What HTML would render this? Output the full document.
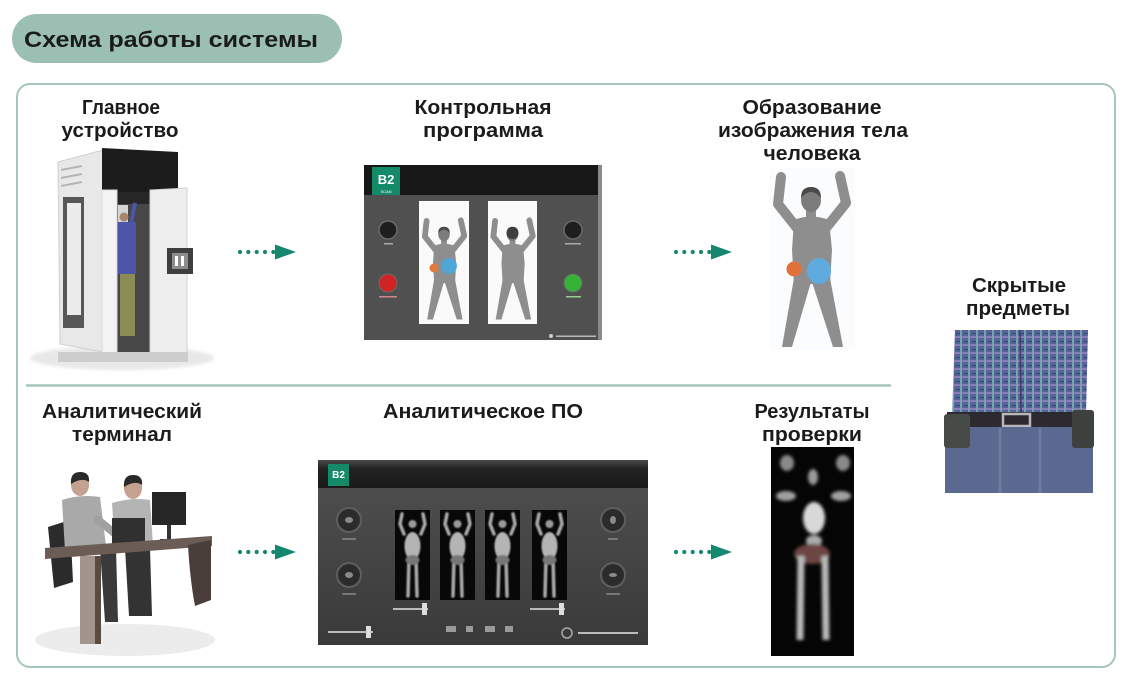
<!DOCTYPE html>
<html><head><meta charset="utf-8"><style>
html,body{margin:0;padding:0;background:#fff;}
svg{display:block}
text{font-family:"Liberation Sans","DejaVu Sans",sans-serif;font-weight:bold;fill:#1b1b1b}
</style></head><body>
<svg width="1132" height="681" viewBox="0 0 1132 681" xmlns="http://www.w3.org/2000/svg">
<defs>
 <filter id="b1" x="-20%" y="-20%" width="140%" height="140%"><feGaussianBlur stdDeviation="0.8"/></filter>
 <filter id="b2" x="-20%" y="-20%" width="140%" height="140%"><feGaussianBlur stdDeviation="1.6"/></filter>
 <filter id="b4" x="-30%" y="-30%" width="160%" height="160%"><feGaussianBlur stdDeviation="4"/></filter>
 <pattern id="plaid" width="8" height="8" patternUnits="userSpaceOnUse">
  <rect width="8" height="8" fill="#56629a"/>
  <rect x="0" y="0" width="8" height="2" fill="#8a7cb8"/>
  <rect x="0" y="0" width="2" height="8" fill="#72a6a6"/>
  <rect x="4" y="5" width="4" height="1" fill="#3f4676"/>
 </pattern>
 <linearGradient id="swg" x1="0" y1="0" x2="0" y2="1">
  <stop offset="0" stop-color="#505050"/><stop offset="1" stop-color="#3a3a3a"/>
 </linearGradient>
 <linearGradient id="barg" x1="0" y1="0" x2="0" y2="1">
  <stop offset="0" stop-color="#4a4a4a"/><stop offset="0.3" stop-color="#222"/><stop offset="1" stop-color="#1a1a1a"/>
 </linearGradient>
 <g id="arrow" fill="#16876f">
  <circle cx="2" cy="0" r="2.1"/><circle cx="10.3" cy="0" r="2.1"/><circle cx="18.7" cy="0" r="2.1"/><circle cx="27" cy="0" r="2.1"/><circle cx="35.3" cy="0" r="2.1"/>
  <polygon points="37,-7.5 58,0 37,7.5"/>
 </g>
 <g id="fig">
  <g fill="none" stroke="#8e8e8e" stroke-width="10" stroke-linecap="round" stroke-linejoin="round">
   <path d="M797 228 L778 204 L781 177"/>
   <path d="M826 228 L846 203 L840 176"/>
  </g>
  <g fill="#8e8e8e">
   <path d="M794 220 Q811 213 829 220 L832 250 L830 284 L794 284 L792 250 Z"/>
   <polygon points="794,278 811,282 792,347 782,347"/>
   <polygon points="812,282 830,278 843,347 833,347"/>
   <rect x="806" y="208" width="10" height="10"/>
  </g>
  <ellipse cx="811" cy="200" rx="10" ry="12" fill="#7c7c7c"/>
  <path d="M801 198 Q801 187 811 187 Q821 187 821 198 Q816 192 811 192 Q806 192 801 198 Z" fill="#4a4a4a"/>
 </g>
 <g id="scan" filter="url(#b1)">
  <g fill="none" stroke="#a8a8a8" stroke-width="3.5" stroke-linecap="round">
   <path d="M9 24 L5 14 L7 4"/><path d="M26 24 L30 14 L28 4"/>
   <path d="M14 48 L13 86"/><path d="M21 48 L22 86"/>
  </g>
  <circle cx="17.5" cy="14" r="4" fill="#9a9a9a"/>
  <ellipse cx="17.5" cy="36" rx="8" ry="14" fill="#b4b4b4"/>
  <ellipse cx="17.5" cy="50" rx="7" ry="5" fill="#777"/>
 </g>
</defs>

<!-- header pill -->
<rect x="12" y="14" width="330" height="49" rx="24.5" fill="#9cbfb4"/>
<text x="24" y="47" font-size="22" textLength="294" lengthAdjust="spacingAndGlyphs">Схема работы системы</text>

<!-- outer box -->
<rect x="17" y="84" width="1098" height="583" rx="13" fill="none" stroke="#a5c6bc" stroke-width="2"/>
<line x1="26" y1="385.5" x2="891" y2="385.5" stroke="#a5c6bc" stroke-width="2.5"/>

<!-- labels -->
<g font-size="20" text-anchor="middle">
 <text x="121" y="114" textLength="78" lengthAdjust="spacingAndGlyphs">Главное</text>
 <text x="120" y="137" textLength="117" lengthAdjust="spacingAndGlyphs">устройство</text>
 <text x="483" y="114" textLength="137" lengthAdjust="spacingAndGlyphs">Контрольная</text>
 <text x="483" y="137" textLength="120" lengthAdjust="spacingAndGlyphs">программа</text>
 <text x="812" y="114" textLength="139" lengthAdjust="spacingAndGlyphs">Образование</text>
 <text x="813" y="137" textLength="190" lengthAdjust="spacingAndGlyphs">изображения тела</text>
 <text x="812" y="160" textLength="97" lengthAdjust="spacingAndGlyphs">человека</text>
 <text x="1019" y="292" textLength="94" lengthAdjust="spacingAndGlyphs">Скрытые</text>
 <text x="1018" y="315" textLength="104" lengthAdjust="spacingAndGlyphs">предметы</text>
 <text x="122" y="418" textLength="160" lengthAdjust="spacingAndGlyphs">Аналитический</text>
 <text x="122" y="441" textLength="100" lengthAdjust="spacingAndGlyphs">терминал</text>
 <text x="483" y="418" textLength="200" lengthAdjust="spacingAndGlyphs">Аналитическое ПО</text>
 <text x="812" y="418" textLength="115" lengthAdjust="spacingAndGlyphs">Результаты</text>
 <text x="812" y="441" textLength="100" lengthAdjust="spacingAndGlyphs">проверки</text>
</g>

<!-- arrows -->
<use href="#arrow" transform="translate(238 252)"/>
<use href="#arrow" transform="translate(674 252)"/>
<use href="#arrow" transform="translate(238 552)"/>
<use href="#arrow" transform="translate(674 552)"/>

<!-- booth -->
<g>
 <ellipse cx="122" cy="358" rx="92" ry="12" fill="#e8e8e8" filter="url(#b2)"/>
 <polygon points="58,162 103,150 103,352 60,344" fill="#e8e8e8" stroke="#cfcfcf"/>
 <g stroke="#b5b5b5" stroke-width="2"><line x1="61" y1="170" x2="82" y2="166"/><line x1="61" y1="178" x2="82" y2="174"/><line x1="61" y1="186" x2="82" y2="182"/></g>
 <rect x="63" y="197" width="21" height="131" fill="#575757"/>
 <rect x="67" y="203" width="14" height="112" fill="#ececec"/>
 <polygon points="102,148 178,152 178,196 102,192" fill="#1c1c1c"/>
 <rect x="115" y="192" width="38" height="168" fill="#474747"/>
 <rect x="115" y="192" width="38" height="12" fill="#262626"/>
 <rect x="118" y="205" width="10" height="60" fill="#d5d5d5"/>
 <line x1="131" y1="224" x2="135" y2="203" stroke="#4e55a8" stroke-width="4"/>
 <circle cx="124" cy="217" r="4.5" fill="#a8846c"/>
 <rect x="118" y="222" width="18" height="52" fill="#4e55a8"/>
 <rect x="120" y="274" width="15" height="62" fill="#8c8b55"/>
 <rect x="102" y="190" width="15" height="170" fill="#f3f3f3" stroke="#d8d8d8"/>
 <polygon points="150,190 187,188 187,357 150,360" fill="#eeeeee" stroke="#d0d0d0"/>
 <rect x="167" y="248" width="26" height="26" fill="#3e3e3e"/>
 <rect x="172" y="253" width="16" height="16" fill="#8d8d8d"/>
 <rect x="175" y="256" width="3" height="10" fill="#fff"/><rect x="181" y="256" width="3" height="10" fill="#fff"/>
 <rect x="58" y="352" width="130" height="10" fill="#cdcdcd"/>
</g>

<!-- control program screen -->
<g>
 <rect x="364" y="165" width="238" height="175" fill="#505050"/>
 <rect x="364" y="165" width="238" height="30" fill="#171717"/>
 <rect x="598" y="165" width="4" height="175" fill="#8a8a8a"/>
 <rect x="372" y="167" width="28" height="28" fill="#148a68"/>
 <text x="386" y="184" font-size="13" text-anchor="middle" style="fill:#fff">B2</text>
 <text x="386" y="193" font-size="4" text-anchor="middle" style="fill:#fff;font-weight:normal">SCAN</text>
 <rect x="419" y="201" width="50" height="123" fill="#fafafa"/>
 <rect x="488" y="201" width="49" height="123" fill="#fafafa"/>
 <use href="#fig" transform="translate(444 218) scale(0.58) translate(-811 -172)"/>
 <use href="#fig" transform="translate(512.5 218) scale(0.58) translate(-811 -172)"/>
 <circle cx="512.5" cy="233" r="6" fill="#3e3e3e"/>
 <ellipse cx="449" cy="266" rx="8" ry="8" fill="#4aa8e0" opacity="0.9"/>
 <circle cx="434" cy="268" r="4.5" fill="#e07a3a"/>
 <circle cx="388" cy="230" r="9" fill="#1e1e1e" stroke="#6a6a6a" stroke-width="1.5"/>
 <circle cx="388" cy="283" r="9" fill="#d02424" stroke="#6a6a6a" stroke-width="1"/>
 <circle cx="573" cy="230" r="9" fill="#1e1e1e" stroke="#6a6a6a" stroke-width="1.5"/>
 <circle cx="573" cy="283" r="9" fill="#36b236" stroke="#6a6a6a" stroke-width="1"/>
 <rect x="384" y="243" width="9" height="1.5" fill="#aaa"/>
 <rect x="379" y="296" width="18" height="1.5" fill="#c88"/>
 <rect x="565" y="243" width="16" height="1.5" fill="#aaa"/>
 <rect x="566" y="296" width="15" height="1.5" fill="#9c9"/>
 <circle cx="551" cy="336" r="2" fill="#ccc"/>
 <rect x="556" y="335.5" width="40" height="1.5" fill="#bbb"/>
</g>

<!-- body image -->
<g>
 <rect x="770" y="168" width="85" height="182" fill="#fbfcfd"/>
 <use href="#fig"/>
 <ellipse cx="819" cy="271" rx="12" ry="13" fill="#5aaee8" opacity="0.9"/>
 <circle cx="794" cy="269" r="7.5" fill="#e2703a"/>
</g>

<!-- hidden items photo -->
<g>
 <path d="M955 330 L1088 330 L1086 415 L952 415 Z" fill="url(#plaid)"/>
 <line x1="1020" y1="330" x2="1021" y2="413" stroke="#3a3f66" stroke-width="1.5"/>
 <rect x="947" y="412" width="143" height="16" fill="#2c2a30"/>
 <rect x="1003" y="414" width="27" height="12" fill="none" stroke="#b8b8b8" stroke-width="2.5"/>
 <path d="M945 427 L1093 427 L1093 493 L945 493 Z" fill="#5b6890"/>
 <path d="M1000 428 L1000 493 M1040 428 L1040 493" stroke="#6e7ba0" stroke-width="3"/>
 <rect x="944" y="414" width="26" height="34" rx="3" fill="#464b46"/>
 <rect x="1072" y="410" width="22" height="38" rx="3" fill="#3e423e"/>
</g>

<!-- analytic terminal -->
<g>
 <ellipse cx="125" cy="640" rx="90" ry="16" fill="#ececec"/>
 <path d="M48 527 L70 520 L73 582 L54 588 Z" fill="#2b2b2b"/>
 <path d="M62 500 Q80 494 100 497 L106 546 L65 551 Z" fill="#a9a9a9"/>
 <line x1="98" y1="520" x2="118" y2="536" stroke="#a0a0a0" stroke-width="8" stroke-linecap="round"/>
 <ellipse cx="80" cy="485" rx="9" ry="11" fill="#c4a190"/>
 <path d="M71 484 Q70 472 80 472 Q90 472 89 482 Q82 477 71 484 Z" fill="#2a2a2a"/>
 <path d="M112 503 Q132 497 150 500 L153 546 L115 549 Z" fill="#b4b4b4"/>
 <ellipse cx="133" cy="488" rx="9" ry="11" fill="#c4a190"/>
 <path d="M124 487 Q123 475 133 475 Q143 475 142 485 Q135 480 124 487 Z" fill="#2a2a2a"/>
 <rect x="152" y="492" width="34" height="33" fill="#262626"/>
 <rect x="167" y="525" width="4" height="15" fill="#333"/>
 <rect x="160" y="539" width="18" height="3" fill="#333"/>
 <rect x="112" y="518" width="33" height="28" fill="#303030"/>
 <path d="M100 548 L116 548 L118 622 L105 622 Z" fill="#3a3a3a"/>
 <path d="M125 548 L150 548 L152 616 L129 616 Z" fill="#333"/>
 <polygon points="45,548 212,536 212,546 45,559" fill="#6b5d55"/>
 <rect x="80" y="556" width="16" height="88" fill="#a2958d"/>
 <rect x="95" y="556" width="6" height="88" fill="#5a4a42"/>
 <path d="M188 545 L211 540 L211 600 L195 606 Q190 580 188 545 Z" fill="#4a3e3a"/>
</g>

<!-- analytic software screen -->
<g>
 <rect x="318" y="460" width="330" height="185" fill="url(#swg)"/>
 <rect x="318" y="460" width="330" height="28" fill="url(#barg)"/>
 <rect x="328" y="464" width="21" height="22" fill="#148a68"/>
 <text x="338.5" y="478" font-size="10" text-anchor="middle" style="fill:#fff">B2</text>
 <rect x="395" y="510" width="35" height="90" fill="#080808"/>
 <rect x="440" y="510" width="35" height="90" fill="#080808"/>
 <rect x="485" y="510" width="35" height="90" fill="#080808"/>
 <rect x="532" y="510" width="35" height="90" fill="#080808"/>
 <use href="#scan" transform="translate(395 510)"/>
 <use href="#scan" transform="translate(440 510)"/>
 <use href="#scan" transform="translate(485 510)"/>
 <use href="#scan" transform="translate(532 510)"/>
 <g fill="#2b2b2b" stroke="#5e5e5e" stroke-width="2">
  <circle cx="349" cy="520" r="12"/><circle cx="349" cy="575" r="12"/>
  <circle cx="613" cy="520" r="12"/><circle cx="613" cy="575" r="12"/>
 </g>
 <g fill="#8a8a8a">
  <ellipse cx="349" cy="520" rx="4" ry="3"/><ellipse cx="349" cy="575" rx="4" ry="3"/>
  <ellipse cx="613" cy="520" rx="3" ry="4"/><ellipse cx="613" cy="575" rx="4" ry="2"/>
 </g>
 <g fill="#777">
  <rect x="342" y="538" width="14" height="2"/><rect x="342" y="593" width="14" height="2"/>
  <rect x="608" y="538" width="10" height="2"/><rect x="606" y="593" width="14" height="2"/>
 </g>
 <g stroke="#bbb" stroke-width="2">
  <line x1="393" y1="609" x2="428" y2="609"/><line x1="530" y1="609" x2="565" y2="609"/><line x1="328" y1="632" x2="373" y2="632"/>
 </g>
 <g fill="#ddd">
  <rect x="422" y="603" width="5" height="12"/><rect x="559" y="603" width="5" height="12"/><rect x="366" y="626" width="5" height="12"/>
 </g>
 <g fill="#9a9a9a">
  <rect x="446" y="626" width="10" height="6"/><rect x="466" y="626" width="7" height="6"/><rect x="485" y="626" width="10" height="6"/><rect x="505" y="626" width="8" height="6"/>
 </g>
 <circle cx="567" cy="633" r="5" fill="none" stroke="#aaa" stroke-width="1.5"/>
 <rect x="578" y="632" width="60" height="2" fill="#bbb"/>
</g>

<!-- results -->
<g>
 <rect x="771" y="447" width="83" height="209" fill="#050505"/>
 <g filter="url(#b2)">
  <ellipse cx="787" cy="463" rx="7" ry="8" fill="#8a8a8a"/>
  <ellipse cx="843" cy="463" rx="7" ry="8" fill="#8a8a8a"/>
  <ellipse cx="813" cy="477" rx="5" ry="8" fill="#9a9a9a"/>
  <ellipse cx="786" cy="496" rx="10" ry="5" fill="#a0a0a0"/>
  <ellipse cx="841" cy="496" rx="10" ry="5" fill="#a0a0a0"/>
  <ellipse cx="814" cy="518" rx="11" ry="16" fill="#d8d8d8"/>
  <ellipse cx="814" cy="541" rx="8" ry="6" fill="#aaa"/>
  <ellipse cx="812" cy="554" rx="18" ry="10" fill="#6e4444"/>
  <path d="M801 556 L800 640 M825 556 L826 640" stroke="#b8b8b8" stroke-width="7" fill="none"/>
 </g>
</g>
</svg>
</body></html>
